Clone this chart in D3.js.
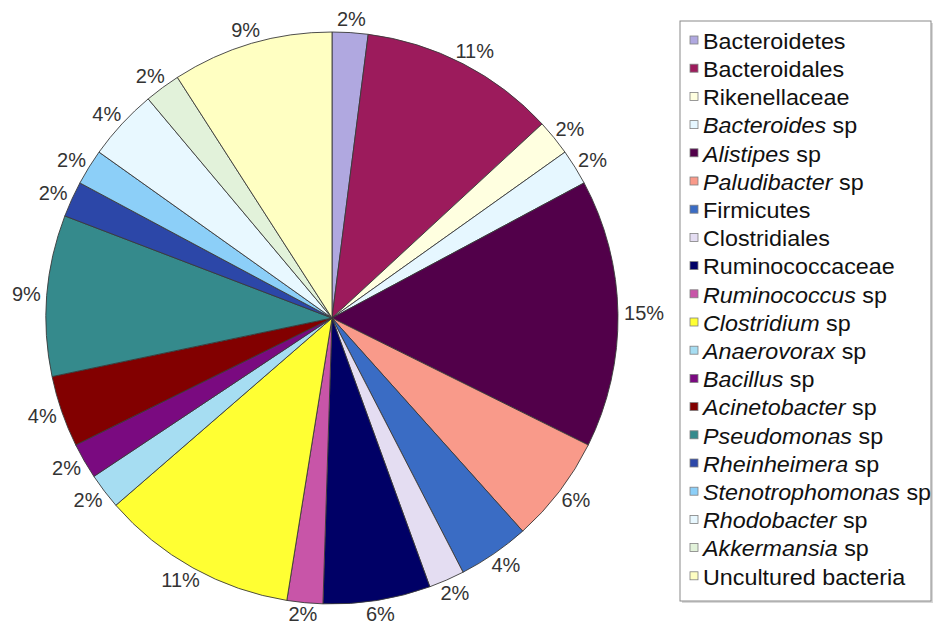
<!DOCTYPE html>
<html>
<head>
<meta charset="utf-8">
<script src="https://cdn.jsdelivr.net/npm/d3@7"></script>
<style>
  html, body { margin: 0; padding: 0; background: #ffffff; }
  svg { display: block; }
  text { font-family: "Liberation Sans", Arial, sans-serif; }
</style>
</head>
<body>
<svg id="chart" width="933" height="628"></svg>
<script>
// Taxa, in clockwise order from twelve o'clock
const taxa = [
  "Bacteroidetes", "Bacteroidales", "Rikenellaceae", "Bacteroides", "Alistipes",
  "Paludibacter", "Firmicutes", "Clostridiales", "Ruminococcaceae", "Ruminococcus",
  "Clostridium", "Anaerovorax", "Bacillus", "Acinetobacter", "Pseudomonas",
  "Rheinheimera", "Stenotrophomonas", "Rhodobacter", "Akkermansia", "Uncultured bacteria"
];
// Genus-level names are set in italics followed by " sp"
const isGenus = [
  false, false, false, true, true,
  true, false, false, false, true,
  true, true, true, true, true,
  true, true, true, true, false
];
// Share of clones per taxon (%)
const shares = [2, 11, 2, 2, 15, 6, 4, 2, 6, 2, 11, 2, 2, 4, 9, 2, 2, 4, 2, 9];
const fills = [
  "#b0a8e0", "#9c1b5c", "#ffffe0", "#e6f7ff", "#52004a",
  "#f99a8a", "#3a6cc4", "#e4ddf2", "#000066", "#c855a8",
  "#ffff33", "#a6ddf2", "#7a0a80", "#820000", "#358a8c",
  "#2c47a8", "#8ccff8", "#e8f8ff", "#e2f2da", "#ffffc2"
];

const svg = d3.select("#chart");
const cx = 332, cy = 318, radius = 286;

const pie = d3.pie().sort(null).value(i => shares[i]);
const arcs = pie(d3.range(taxa.length));
const arc = d3.arc().innerRadius(0).outerRadius(radius);

const g = svg.append("g").attr("transform", `translate(${cx},${cy})`);

g.selectAll("path.slice")
  .data(arcs)
  .join("path")
  .attr("class", "slice")
  .attr("d", arc)
  .attr("fill", d => fills[d.data])
  .attr("stroke", "#3a3a3a")
  .attr("stroke-width", 0.9)
  .attr("stroke-linejoin", "round");

// Percentage labels just outside the rim
const labelFont = 20, gap = 6;
const labels = g.selectAll("text.pct")
  .data(arcs)
  .join("text")
  .attr("class", "pct")
  .attr("font-size", labelFont)
  .attr("fill", "#333333")
  .attr("text-anchor", "middle")
  .attr("dominant-baseline", "central")
  .text(d => shares[d.data] + "%");

labels.each(function(d) {
  const a = (d.startAngle + d.endAngle) / 2;
  const bb = this.getBBox();
  const s = Math.sin(a), c = -Math.cos(a);
  const x = (radius + gap) * s + (bb.width / 2) * s;
  // keep the lowest labels inside the drawing area
  const y = Math.min((radius + gap) * c + (bb.height / 2 - 3) * c, 628 - cy - 14);
  d3.select(this).attr("x", x).attr("y", y);
});

// Legend
const lg = svg.append("g").attr("transform", "translate(680,21)");
const boxW = 251, boxH = 580;
lg.append("rect")
  .attr("x", 2).attr("y", 2).attr("width", boxW).attr("height", boxH)
  .attr("fill", "#d8d8d8");
lg.append("rect")
  .attr("x", 0).attr("y", 0).attr("width", boxW).attr("height", boxH)
  .attr("fill", "#ffffff").attr("stroke", "#8a8a8a").attr("stroke-width", 1);

const rowY = d3.scalePoint().domain(d3.range(taxa.length)).range([19, 19 + 19 * 28.2]);

const rows = lg.selectAll("g.row")
  .data(d3.range(taxa.length))
  .join("g")
  .attr("class", "row")
  .attr("transform", i => `translate(0,${rowY(i)})`);

rows.append("rect")
  .attr("x", 10).attr("y", -4).attr("width", 8).attr("height", 8)
  .attr("fill", i => fills[i])
  .attr("stroke", "#808080").attr("stroke-width", 0.8);

// Legend text is set slightly wide
const lt = rows.append("text")
  .attr("transform", "translate(23,1) scale(1.06,1)")
  .attr("dominant-baseline", "central")
  .attr("font-size", 22)
  .attr("fill", "#111111");

lt.each(function(i) {
  const t = d3.select(this);
  if (isGenus[i]) {
    t.append("tspan").attr("font-style", "italic").text(taxa[i]);
    t.append("tspan").text(" sp");
  } else {
    t.text(taxa[i]);
  }
});
</script>
</body>
</html>
